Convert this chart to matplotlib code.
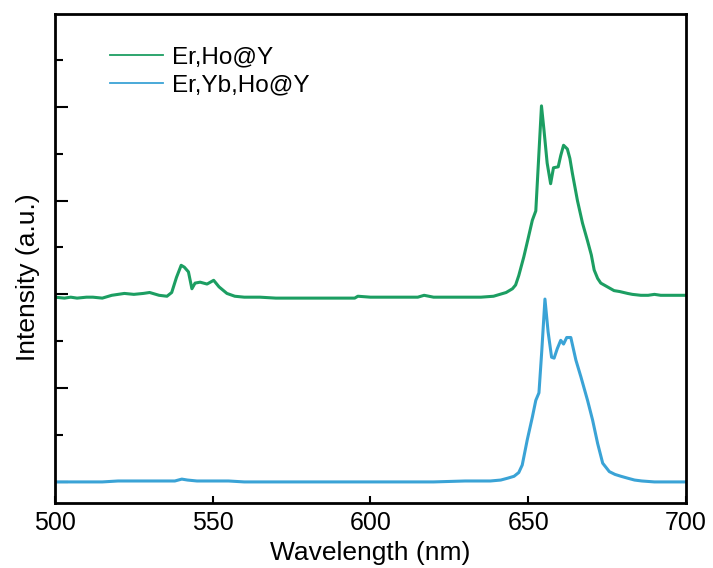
import matplotlib
matplotlib.use("Agg")
import matplotlib.pyplot as plt
from matplotlib.lines import Line2D
from matplotlib.ticker import MultipleLocator

plt.rcParams['font.family'] = ['Liberation Sans', 'DejaVu Sans']

# Er,Ho@Y emission spectrum (offset upward)
wl_erho = [500, 503, 505, 507, 510, 512, 515, 518, 520, 522, 525, 528, 530, 533, 535.5,
           537, 538.5, 540, 541, 542.3, 543.4, 544.4, 546, 548.2, 550.3, 552, 554.5,
           557, 560, 565, 570, 575, 580, 585, 590, 595, 596, 600, 605, 610, 615, 617,
           620, 625, 630, 635, 639, 643, 645, 646, 647, 648.6, 650, 651.3, 652.4, 653.3,
           654.2, 655, 656, 657.1, 658, 659.5, 660.3, 661.2, 662.4, 663.2, 664, 665.6,
           667.2, 668.8, 670, 670.9, 672, 673, 675.1, 677.2, 679, 681.5, 683, 685.7,
           688, 690, 692, 695, 698, 700]
int_erho = [1.97, 1.96, 1.97, 1.96, 1.97, 1.97, 1.96, 1.99, 2.00, 2.01, 2.00, 2.01, 2.02,
            1.99, 1.98, 2.02, 2.18, 2.31, 2.29, 2.24, 2.06, 2.12, 2.13, 2.11, 2.15, 2.08,
            2.01, 1.98, 1.97, 1.97, 1.96, 1.96, 1.96, 1.96, 1.96, 1.96, 1.98, 1.97, 1.97,
            1.97, 1.97, 1.99, 1.97, 1.97, 1.97, 1.97, 1.98, 2.02, 2.06, 2.10, 2.20, 2.40,
            2.60, 2.79, 2.89, 3.45, 4.01, 3.75, 3.40, 3.18, 3.35, 3.36, 3.48, 3.59, 3.55,
            3.45, 3.29, 3.00, 2.76, 2.57, 2.42, 2.26, 2.17, 2.12, 2.08, 2.04, 2.03, 2.01,
            2.00, 1.99, 1.99, 2.00, 1.99, 1.99, 1.99, 1.99]

# Er,Yb,Ho@Y emission spectrum
wl_eryb = [500, 505, 510, 515, 520, 525, 530, 535, 538, 540.2, 542, 545, 550, 555, 560,
           570, 580, 590, 600, 610, 620, 630, 635, 638, 641.3, 643.5, 645.5, 647, 648.1,
           649.7, 651.3, 652.4, 653.4, 654.3, 655.3, 656.3, 657.4, 658.2, 659.2, 660.3,
           661.2, 662.2, 663.5, 664.3, 665.1, 666.7, 668.8, 670.4, 672, 673.6, 675.7,
           677.5, 679.4, 681.5, 683.7, 686, 690, 695, 700]
int_eryb = [0.00, 0.00, 0.00, 0.00, 0.01, 0.01, 0.01, 0.01, 0.01, 0.03, 0.02, 0.01, 0.01,
            0.01, 0.00, 0.00, 0.00, 0.00, 0.00, 0.00, 0.00, 0.01, 0.01, 0.01, 0.02, 0.04,
            0.06, 0.10, 0.18, 0.45, 0.69, 0.87, 0.95, 1.40, 1.95, 1.60, 1.33, 1.32, 1.42,
            1.51, 1.47, 1.54, 1.54, 1.42, 1.30, 1.12, 0.87, 0.66, 0.41, 0.20, 0.11, 0.08,
            0.06, 0.04, 0.02, 0.01, 0.00, 0.00, 0.00]

labels = ["Er,Ho@Y", "Er,Yb,Ho@Y"]
colors = ["#1c9e62", "#3aa3d6"]
xticks = [500, 550, 600, 650, 700]

fig = plt.figure(figsize=(7.13, 5.68), dpi=100)
ax = fig.add_axes([0.0771, 0.1144, 0.885, 0.861])

ax.plot(wl_erho, int_erho, color=colors[0], lw=2.2)
ax.plot(wl_eryb, int_eryb, color=colors[1], lw=2.2)

ax.set_xlim(500, 700)
ax.set_ylim(-0.225, 4.99)
ax.set_xticks(xticks)
ax.yaxis.set_major_locator(MultipleLocator(1.0))
ax.yaxis.set_minor_locator(MultipleLocator(0.5))
ax.set_yticklabels([])

ax.tick_params(axis='x', which='major', direction='in', length=5, width=1.5,
               labelsize=18, pad=6, top=False)
ax.tick_params(axis='y', which='major', direction='in', length=9, width=1.5,
               right=False, pad=0)
ax.tick_params(axis='y', which='minor', direction='in', length=6, width=1.5,
               right=False)
for s in ax.spines.values():
    s.set_linewidth(2.0)

ax.set_xlabel("Wavelength (nm)", fontsize=19, labelpad=4)
ax.set_ylabel("Intensity (a.u.)", fontsize=19)
ax.yaxis.set_label_coords(-0.024, 0.461)

handles = [Line2D([], [], color=c, lw=1.3) for c in colors]
ax.legend(handles, labels, loc='upper left', bbox_to_anchor=(0.087, 0.933),
          frameon=False, fontsize=17.5, handlelength=2.2, handletextpad=0.35,
          labelspacing=0.22, borderpad=0, borderaxespad=0)

fig.savefig("out.png", dpi=100)
